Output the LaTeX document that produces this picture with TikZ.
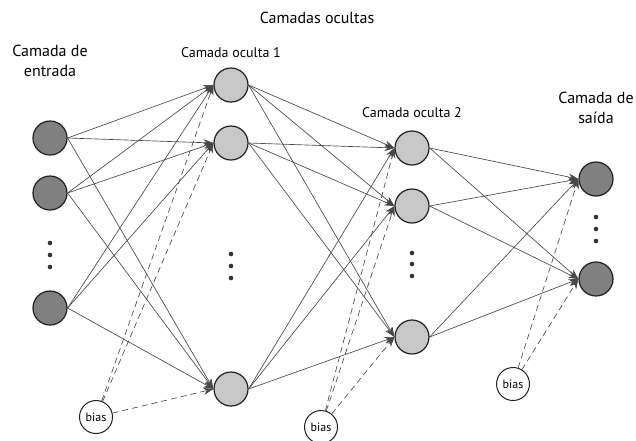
\documentclass[tikz,border=0pt]{standalone}
\usepackage{fontspec}
\setmainfont{PT Sans}
\usetikzlibrary{arrows.meta}

\begin{document}
\begin{tikzpicture}[x=1pt,y=-1pt,
  escura/.style={circle, draw=black!88, line width=1.2pt, fill=black!50, minimum size=34pt, inner sep=0pt},
  clara/.style={circle, draw=black!88, line width=1.2pt, fill=black!22, minimum size=34pt, inner sep=0pt},
  nobias/.style={circle, draw=black!88, line width=1pt, fill=white, minimum size=33pt, inner sep=0pt, font=\fontsize{12}{14}\selectfont},
  peso/.style={draw=black!72, line width=0.65pt, -{Stealth[length=10pt,width=7pt]}},
  pesob/.style={peso, dash pattern=on 6pt off 4pt},
  titulo/.style={align=center, font=\fontsize{16}{20}\selectfont},
  subtitulo/.style={align=center, font=\fontsize{14}{17}\selectfont}
]
\useasboundingbox (0,0) rectangle (636,440);

% N camada de entrada
\node[escura] (e1) at (50,138) {};
\node[escura] (e2) at (50,193) {};
\node[escura] (e3) at (50,308) {};

% N camada oculta 1
\node[clara] (oa1) at (231,85) {};
\node[clara] (oa2) at (231,143) {};
\node[clara] (oa3) at (231,389) {};

% N camada oculta 2
\node[clara] (ob1) at (412,148) {};
\node[clara] (ob2) at (412,206) {};
\node[clara] (ob3) at (412,337) {};

% N camada de saida
\node[escura] (s1) at (596,179) {};
\node[escura] (s2) at (596,279) {};

% bias
\node[nobias] (b1) at (96,417) {bias};
\node[nobias] (b2) at (321,427) {bias};
\node[nobias] (b3) at (513,384) {bias};

% textos
\node[titulo] (t0) at (317,18) {Camadas ocultas};
\node[titulo] (t1) at (50,61) {Camada de\\entrada};
\node[subtitulo] (t2) at (231,53) {Camada oculta 1};
\node[subtitulo] (t3) at (412,113) {Camada oculta 2};
\node[titulo] (t4) at (596,108) {Camada de\\saída};

% reticencias
\fill[black!80] (50,243) circle (2.3) (50,255) circle (2.3) (50,267) circle (2.3);
\fill[black!80] (231,254) circle (2.3) (231,266) circle (2.3) (231,278) circle (2.3);
\fill[black!80] (412,253) circle (2.3) (412,264) circle (2.3) (412,276) circle (2.3);
\fill[black!80] (596,217) circle (2.3) (596,229) circle (2.3) (596,241) circle (2.3);

% A entrada - oculta 1
\draw[peso] (e1.east) -- (oa1.west);
\draw[peso] (e1.east) -- (oa2.west);
\draw[peso] (e1.east) -- (oa3.west);
\draw[peso] (e2.east) -- (oa1.west);
\draw[peso] (e2.east) -- (oa2.west);
\draw[peso] (e2.east) -- (oa3.west);
\draw[peso] (e3.east) -- (oa1.west);
\draw[peso] (e3.east) -- (oa2.west);
\draw[peso] (e3.east) -- (oa3.west);

% A oculta 1 - oculta 2
\draw[peso] (oa1.east) -- (ob1.west);
\draw[peso] (oa1.east) -- (ob2.west);
\draw[peso] (oa1.east) -- (ob3.west);
\draw[peso] (oa2.east) -- (ob1.west);
\draw[peso] (oa2.east) -- (ob2.west);
\draw[peso] (oa2.east) -- (ob3.west);
\draw[peso] (oa3.east) -- (ob1.west);
\draw[peso] (oa3.east) -- (ob2.west);
\draw[peso] (oa3.east) -- (ob3.west);

% A oculta 2 - saida
\draw[peso] (ob1.east) -- (s1.west);
\draw[peso] (ob1.east) -- (s2.west);
\draw[peso] (ob2.east) -- (s1.west);
\draw[peso] (ob2.east) -- (s2.west);
\draw[peso] (ob3.east) -- (s1.west);
\draw[peso] (ob3.east) -- (s2.west);

% A bias
\draw[pesob] (b1) -- (oa1.west);
\draw[pesob] (b1) -- (oa2.west);
\draw[pesob] (b1) -- (oa3.west);
\draw[pesob] (b2) -- (ob1.west);
\draw[pesob] (b2) -- (ob2.west);
\draw[pesob] (b2) -- (ob3.west);
\draw[pesob] (b3) -- (s1.west);
\draw[pesob] (b3) -- (s2.west);
\end{tikzpicture}
\end{document}
